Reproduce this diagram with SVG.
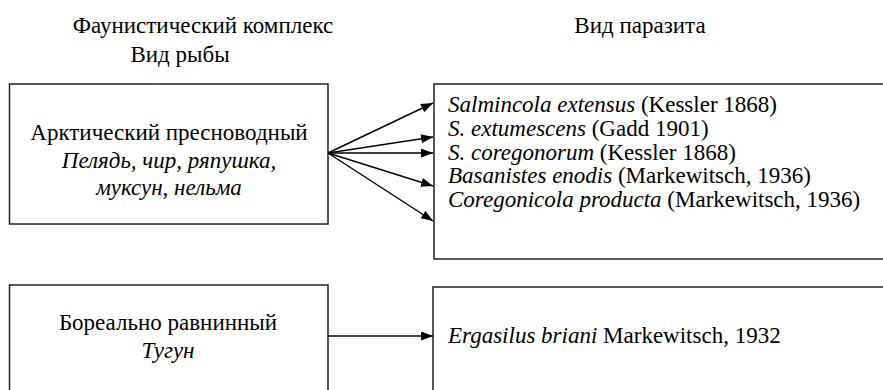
<svg xmlns="http://www.w3.org/2000/svg" width="883" height="390" viewBox="0 0 883 390" font-family="'Liberation Serif', Tinos, 'Times New Roman', 'DejaVu Serif', serif">
<style>
text{font-family:"Liberation Serif",Tinos,"Times New Roman","DejaVu Serif",serif;font-size:23px;fill:#000}
.i{font-style:italic}
.box{fill:#fff;stroke:#222;stroke-width:1.5}
.c{stroke:#000;stroke-width:1.4;fill:none;marker-end:url(#ah)}
</style>
<defs>
<marker id="ah" markerWidth="12" markerHeight="9" refX="12" refY="4.5" orient="auto" markerUnits="userSpaceOnUse">
<path d="M0,0 L12,4.5 L0,9 Z" fill="#000"/>
</marker>
</defs>
<g id="headers">
<text x="203" y="33" text-anchor="middle">Фаунистический комплекс</text>
<text x="180" y="62" text-anchor="middle">Вид рыбы</text>
<text x="640" y="33" text-anchor="middle">Вид паразита</text>
</g>
<g id="node-arctic">
<rect class="box" x="9.5" y="84" width="318.5" height="140"/>
<text x="169" y="140" text-anchor="middle">Арктический пресноводный</text>
<text class="i" x="169" y="168" text-anchor="middle">Пелядь, чир, ряпушка,</text>
<text class="i" x="169" y="195" text-anchor="middle">муксун, нельма</text>
</g>
<g id="node-parasites1">
<rect class="box" x="434" y="84" width="470" height="175"/>
<text x="448" y="112"><tspan class="i">Salmincola extensus</tspan> (Kessler 1868)</text>
<text x="448" y="136"><tspan class="i">S. extumescens</tspan> (Gadd 1901)</text>
<text x="448" y="160"><tspan class="i">S. coregonorum</tspan> (Kessler 1868)</text>
<text x="448" y="183"><tspan class="i">Basanistes enodis</tspan> (Markewitsch, 1936)</text>
<text x="448" y="207"><tspan class="i">Coregonicola producta</tspan> (Markewitsch, 1936)</text>
</g>
<g id="node-boreal">
<rect class="box" x="9.5" y="285" width="318.5" height="130"/>
<text x="168" y="330" text-anchor="middle">Бореально равнинный</text>
<text class="i" x="168" y="358" text-anchor="middle">Тугун</text>
</g>
<g id="node-parasites2">
<rect class="box" x="433" y="287" width="470" height="130"/>
<text x="448" y="343"><tspan class="i">Ergasilus briani</tspan> Markewitsch, 1932</text>
</g>
<g id="connectors">
<line class="c" x1="328" y1="153" x2="433" y2="103"/>
<line class="c" x1="328" y1="153" x2="433" y2="137"/>
<line class="c" x1="328" y1="153" x2="433" y2="153"/>
<line class="c" x1="328" y1="153" x2="433" y2="186"/>
<line class="c" x1="328" y1="153" x2="433" y2="221"/>
<line class="c" x1="328" y1="336" x2="433" y2="336"/>
</g>
</svg>
